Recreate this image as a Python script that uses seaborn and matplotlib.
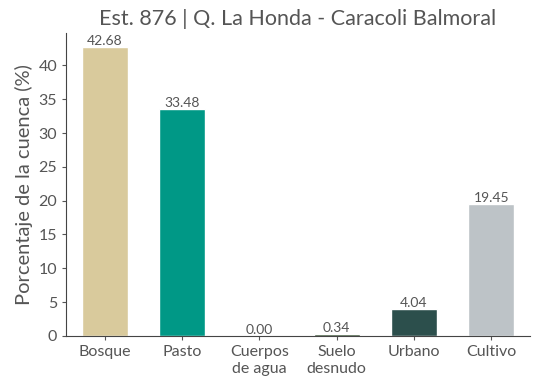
import matplotlib
matplotlib.use("Agg")
import matplotlib.pyplot as plt
import seaborn as sns
import pandas

# Cobertura del suelo en la cuenca (%)
categories = ["Bosque", "Pasto", "Cuerpos\nde agua", "Suelo\ndesnudo", "Urbano", "Cultivo"]
values = [42.68, 33.48, 0.00, 0.34, 4.04, 19.45]
colors = ["#d9ca9c", "#009886", "#2e86c1", "#1e3d1a", "#2c4f4c", "#bdc3c7"]

title = "Est. 876 | Q. La Honda - Caracoli Balmoral"
ylabel = "Porcentaje de la cuenca (%)"
text_color = "#555555"

sns.set_style("ticks")
plt.rcParams["font.family"] = ["Lato", "DejaVu Sans"]


def main():
    df = pandas.DataFrame({"cat": categories, "val": values})

    fig = plt.figure(figsize=(5.38, 3.92), dpi=100)
    ax = fig.add_axes([0.123, 0.143, 0.862, 0.773])
    sns.barplot(
        data=df,
        x="cat",
        y="val",
        hue="cat",
        palette=colors,
        width=0.6,
        legend=False,
        saturation=1,
        ax=ax,
    )

    for container in ax.containers:
        ax.bar_label(container, fmt="%.2f", fontsize=10, color=text_color, padding=0)

    ax.set_title(title, fontsize=15.5, color=text_color, pad=6)
    ax.set_xlabel("")
    ax.set_ylabel(ylabel, fontsize=14.5, color=text_color)
    ax.set_ylim(0, 44.8)
    ax.tick_params(axis="both", labelsize=11.5, colors=text_color, length=3)
    for lbl in ax.get_xticklabels():
        lbl.set_linespacing(1.25)
    for side in ["left", "bottom"]:
        ax.spines[side].set_color("#444444")
    sns.despine(ax=ax)

    fig.savefig("out.png", dpi=100)


if __name__ == "__main__":
    main()
